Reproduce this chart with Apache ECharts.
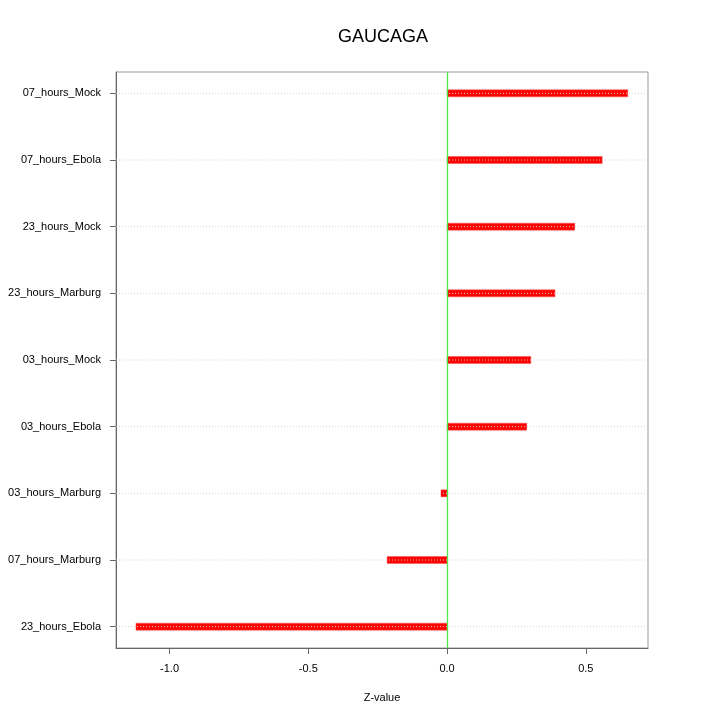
<!DOCTYPE html>
<html><head><meta charset="utf-8">
<script src="https://cdn.jsdelivr.net/npm/echarts@6/dist/echarts.min.js"></script>
<style>html,body{margin:0;padding:0;background:#fff}#c{width:720px;height:720px}</style>
</head><body><div id="c"></div>
<script>
// categories from bottom (1) to top (9)
const categories = ["23_hours_Ebola","07_hours_Marburg","03_hours_Marburg","03_hours_Ebola","03_hours_Mock","23_hours_Marburg","23_hours_Mock","07_hours_Ebola","07_hours_Mock"];
const zValues = [-1.121, -0.216, -0.022, 0.287, 0.302, 0.389, 0.460, 0.559, 0.651];
const xTicks = [-1.0, -0.5, 0.0, 0.5];
const refLine = [0];
const xMin = -1.193, xMax = 0.724;
const yMin = 0.68, yMax = 9.32;
const yPositions = categories.map((c, i) => i + 1);

const chart = echarts.init(document.getElementById('c'), null, {renderer: 'canvas'});
const font = 'Liberation Sans, Arial, sans-serif';
chart.setOption({
  backgroundColor: '#fff',
  animation: false,
  title: {text: 'GAUCAGA', left: 333, top: 23, textStyle: {fontFamily: font, fontWeight: 'normal', fontSize: 18, color: '#000'}},
  grid: {left: 116, right: 72, top: 72, bottom: 72, show: true, borderColor: '#9a9a9a', borderWidth: 1},
  xAxis: {
    type: 'value', min: xMin, max: xMax,
    name: 'Z-value', nameLocation: 'middle', nameGap: 44,
    nameTextStyle: {fontFamily: font, fontSize: 11, color: '#000'},
    axisLine: {show: true, onZero: false, lineStyle: {color: '#666'}},
    axisTick: {show: true, length: 6, lineStyle: {color: '#666'}, customValues: xTicks},
    axisLabel: {fontFamily: font, fontSize: 11, color: '#000', margin: 15, customValues: xTicks,
      formatter: v => v.toFixed(1)},
    splitLine: {show: false}
  },
  yAxis: {
    type: 'value', min: yMin, max: yMax,
    axisLine: {show: true, onZero: false, lineStyle: {color: '#666'}},
    axisTick: {show: true, length: 6, lineStyle: {color: '#666'}, customValues: yPositions},
    axisLabel: {fontFamily: font, fontSize: 11, color: '#000', margin: 15, customValues: yPositions,
      formatter: v => categories[Math.round(v) - 1] || '', padding: [3, 0, 0, 0]},
    splitLine: {show: false}
  },
  series: [
    {
      type: 'custom', z: 2,
      data: zValues.map((v, i) => [v, i + 1]),
      renderItem: function (params, api) {
        const p0 = api.coord([0, api.value(1)]);
        const p1 = api.coord([api.value(0), api.value(1)]);
        const x = Math.min(p0[0], p1[0]), w = Math.abs(p1[0] - p0[0]);
        return {type: 'rect', shape: {x: x, y: p0[1] - 3.5, width: w, height: 7},
          style: {fill: '#ff0000', stroke: 'rgba(255,80,80,0.5)', lineWidth: 1}};
      }
    },
    {
      type: 'custom', z: 5, silent: true,
      data: yPositions.map(y => [y]),
      renderItem: function (params, api) {
        const a = api.coord([xMin, api.value(0)]);
        const b = api.coord([xMax, api.value(0)]);
        return {type: 'line', shape: {x1: a[0], y1: a[1], x2: b[0], y2: b[1]},
          style: {stroke: '#d0d0d0', lineWidth: 1, lineDash: [1, 2]}};
      }
    },
    {
      type: 'custom', z: 6, silent: true,
      data: refLine.map(x => [x, yMin, yMax]),
      encode: {x: 0, y: [1, 2]},
      renderItem: function (params, api) {
        const a = api.coord([api.value(0), api.value(1)]);
        const b = api.coord([api.value(0), api.value(2)]);
        return {type: 'line', shape: {x1: Math.round(a[0]) + 0.5, y1: a[1], x2: Math.round(b[0]) + 0.5, y2: b[1]},
          style: {stroke: '#4ee84e', lineWidth: 1.3}};
      }
    }
  ]
});
</script></body></html>
